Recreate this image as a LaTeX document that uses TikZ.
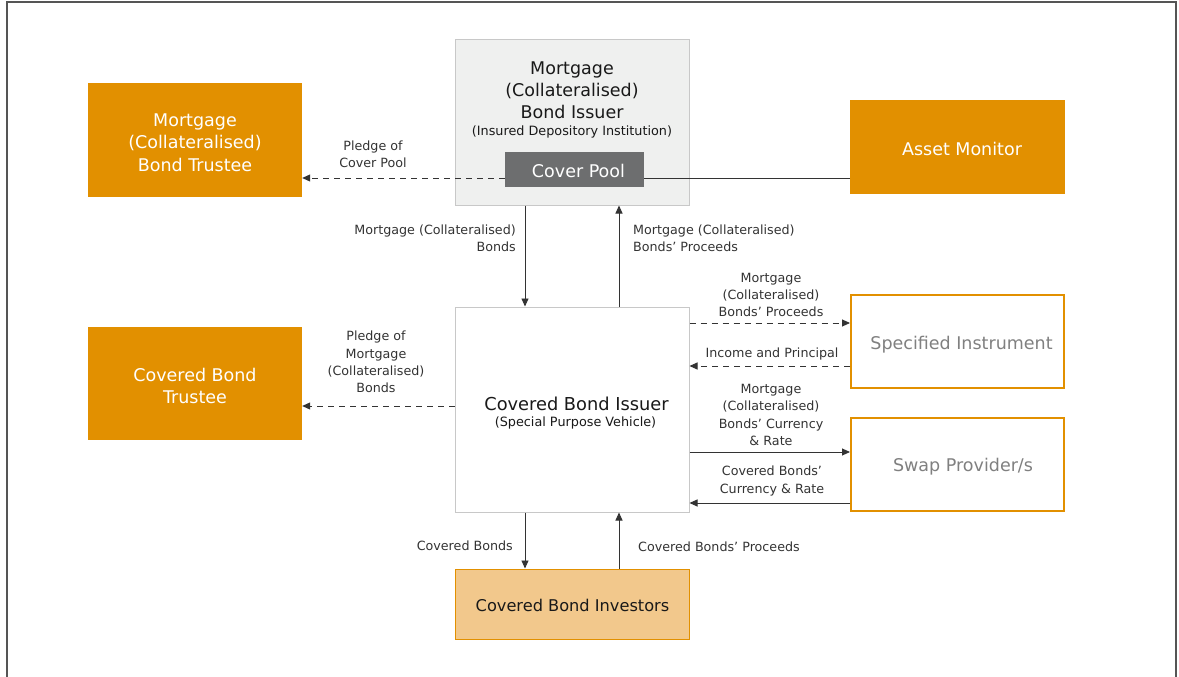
\documentclass[tikz,border=0pt]{standalone}
\usepackage{fontspec}
\setmainfont{DejaVu Sans}
\usetikzlibrary{arrows.meta,calc}
\definecolor{org}{HTML}{E29000}
\definecolor{lorg}{HTML}{F2C88C}
\definecolor{lgray}{HTML}{EFF0EF}
\definecolor{bgray}{HTML}{C8C8C8}
\definecolor{pool}{HTML}{6D6E6F}
\definecolor{txt}{HTML}{333333}
\definecolor{frame}{HTML}{555555}
\begin{document}
\begin{tikzpicture}[x=1pt,y=-1pt,
  obox/.style={fill=org,draw=none,inner sep=0pt},
  otxt/.style={text=white,align=center,font=\fontsize{17.5}{22.5}\selectfont,inner sep=0pt},
  wbox/.style={fill=white,draw=org,line width=2pt,inner sep=0pt},
  wtxt/.style={text=black!50,align=center,font=\fontsize{17.5}{22}\selectfont,inner sep=0pt},
  gbox/.style={draw=bgray,line width=1pt,inner sep=0pt},
  lbl/.style={text=txt,font=\fontsize{12.7}{17.3}\selectfont,inner sep=0pt,align=center},
  arr/.style={draw=txt,line width=0.9pt,-{Triangle[length=8pt,width=7pt]}},
  dsh/.style={arr,dash pattern=on 6pt off 5pt},
  ln/.style={draw=txt,line width=0.9pt}]
\useasboundingbox (0,0) rectangle (1179,677);
\draw[frame,line width=1.2pt] (7,677) -- (7,2) -- (1176,2) -- (1176,677);
% coordinates for connectors
\coordinate (xa) at (525,0);
\coordinate (xb) at (619,0);
\coordinate (ya) at (0,178);
\coordinate (yb) at (0,406);
\coordinate (yc) at (0,323);
\coordinate (yd) at (0,366);
\coordinate (ye) at (0,452);
\coordinate (yf) at (0,503);
% nodes
\node[obox,minimum width=214pt,minimum height=114pt] (mbt) at (195,140) {};
\node[otxt] (mbtt) at (195,142.5) {Mortgage\\(Collateralised)\\Bond Trustee};
\node[gbox,fill=lgray,minimum width=234pt,minimum height=165pt] (iss) at (572,122.5) {};
\node[text=black!90,align=center,font=\fontsize{17.5}{22}\selectfont,inner sep=0pt] (isst) at (572,90.5) {Mortgage\\(Collateralised)\\Bond Issuer};
\node[text=black!90,font=\fontsize{12.8}{14}\selectfont,inner sep=0pt] (isss) at (572,131.5) {(Insured Depository Institution)};
\node[fill=pool,minimum width=139pt,minimum height=35pt,inner sep=0pt] (cp) at (574.5,169.5) {};
\node[text=white,font=\fontsize{17.5}{20}\selectfont,inner sep=0pt] (cpt) at (578.5,171) {Cover Pool};
\node[obox,minimum width=215pt,minimum height=94pt] (am) at (957.5,147) {};
\node[otxt] (amt) at (962,149) {Asset Monitor};
\node[obox,minimum width=214pt,minimum height=113pt] (cbt) at (195,383.5) {};
\node[otxt] (cbtt) at (195,386) {Covered Bond\\Trustee};
\node[gbox,fill=white,minimum width=234pt,minimum height=205pt] (spv) at (572,409.5) {};
\node[text=black!90,font=\fontsize{17.8}{20}\selectfont,inner sep=0pt] (spvt) at (576.5,403.5) {Covered Bond Issuer};
\node[text=black!90,font=\fontsize{12.8}{14}\selectfont,inner sep=0pt] (spvs) at (575.5,423) {(Special Purpose Vehicle)};
\node[wbox,minimum width=213pt,minimum height=93pt] (si) at (957.5,341.5) {};
\node[wtxt] (sit) at (961.5,344.5) {Specified Instrument};
\node[wbox,minimum width=213pt,minimum height=93pt] (sw) at (957.5,464.5) {};
\node[wtxt] (swt) at (963,466.5) {Swap Provider/s};
\node[fill=lorg,draw=org,line width=1pt,minimum width=234pt,minimum height=70pt,inner sep=0pt] (inv) at (572,604) {};
\node[text=black!90,font=\fontsize{16.2}{20}\selectfont,inner sep=0pt] (invt) at (572.5,605.5) {Covered Bond Investors};
% connectors
\draw[dsh] (cp.west |- ya) -- (mbt.east |- ya);
\draw[ln] (cp.east |- ya) -- (am.west |- ya);
\draw[arr] (iss.south -| xa) -- (spv.north -| xa);
\draw[arr] (spv.north -| xb) -- (iss.south -| xb);
\draw[dsh] (spv.west |- yb) -- (cbt.east |- yb);
\draw[dsh] (spv.east |- yc) -- (si.west |- yc);
\draw[dsh] (si.west |- yd) -- (spv.east |- yd);
\draw[arr] (spv.east |- ye) -- (sw.west |- ye);
\draw[arr] (sw.west |- yf) -- (spv.east |- yf);
\draw[arr] (spv.south -| xa) -- (inv.north -| xa);
\draw[arr] (inv.north -| xb) -- (spv.south -| xb);
% labels
\node[lbl] (l1) at (373,154) {Pledge of\\Cover Pool};
\node[lbl,align=right,anchor=east] (l2) at (516,238.5) {Mortgage (Collateralised)\\Bonds};
\node[lbl,align=left,anchor=west] (l3) at (633,238.5) {Mortgage (Collateralised)\\Bonds’ Proceeds};
\node[lbl] (l4) at (376,362) {Pledge of\\Mortgage\\(Collateralised)\\Bonds};
\node[lbl] (l5) at (771,295) {Mortgage\\(Collateralised)\\Bonds’ Proceeds};
\node[lbl] (l6) at (772,354) {Income and Principal};
\node[lbl] (l7) at (771,415) {Mortgage\\(Collateralised)\\Bonds’ Currency\\\& Rate};
\node[lbl] (l8) at (772,481) {Covered Bonds’\\Currency \& Rate};
\node[lbl,anchor=east] (l9) at (513,546) {Covered Bonds};
\node[lbl,anchor=west] (l10) at (638,547) {Covered Bonds’ Proceeds};
\end{tikzpicture}
\end{document}
